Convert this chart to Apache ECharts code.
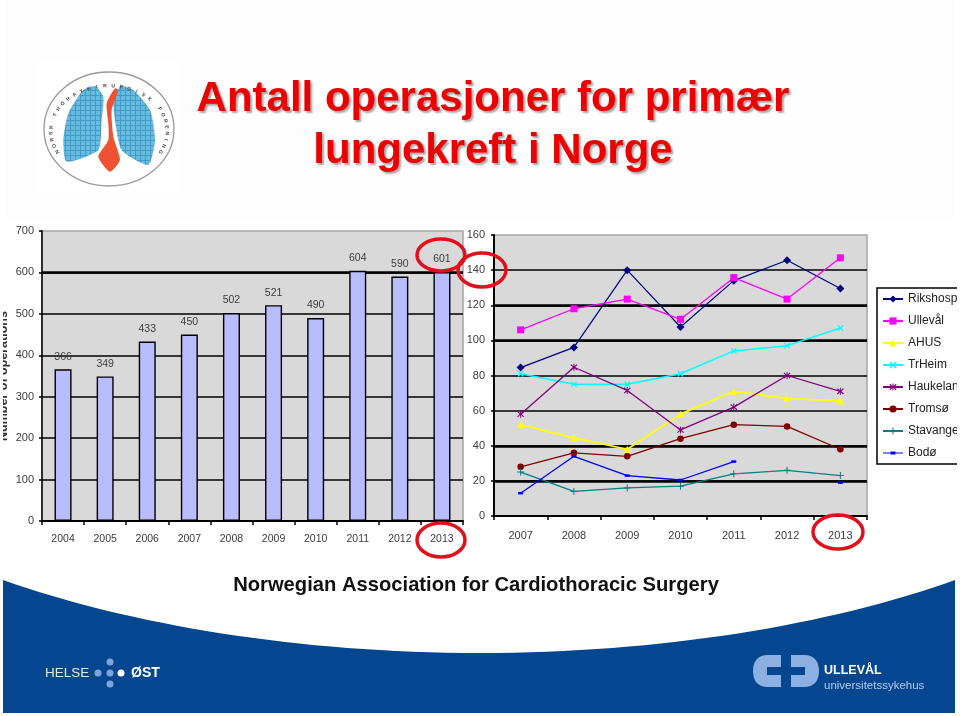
<!DOCTYPE html>
<html>
<head>
<meta charset="utf-8">
<style>html,body{margin:0;padding:0;background:#fff}#c{width:960px;height:716px}</style>
<script src="https://cdn.jsdelivr.net/npm/echarts@6/dist/echarts.min.js"></script>
</head>
<body>
<div id="c"></div>
<script>
var barYears = ['2004','2005','2006','2007','2008','2009','2010','2011','2012','2013'];
var operations = [366,349,433,450,502,521,490,604,590,601];
var lineYears = ['2007','2008','2009','2010','2011','2012','2013'];
var rikshosp  = [84.5,96,140,107.6,134,145.6,129.5];
var ullevaal  = [106,118,123.5,112,135.7,123.5,147];
var ahus      = [52,44.5,38,58,71,67,65.5];
var trheim    = [81,75,75,81,94,97,107];
var haukeland = [58,84.7,71.5,49,62,80,71];
var tromso    = [28,36,34,44,52,51,38];
var stavanger = [25,14,16,17,24,26,23];
var bodo      = [13,34,23,20.5,31,null,19];
var heavyBarGrid = [600];
var heavyLineGrid = [120,100,40,20];
var titleText = 'Antall operasjoner for primær\nlungekreft i Norge';
var ringText = 'NORSK THORAXKIRURGISK FORENING';

var SANS = '"Liberation Sans",Arial,sans-serif';
var P_X = 'path://M1.5 0L5 3.5L8.5 0L10 1.5L6.5 5L10 8.5L8.5 10L5 6.5L1.5 10L0 8.5L3.5 5L0 1.5Z';
var P_STAR = 'path://M1.2 0.6L4.3 3.6V0H5.7V3.6L8.8 0.6L10 1.8L6.4 5L10 8.2L8.8 9.4L5.7 6.4V10H4.3V6.4L1.2 9.4L0 8.2L3.6 5L0 1.8Z';
var P_PLUS = 'path://M4.3 0H5.7V4.3H10V5.7H5.7V10H4.3V5.7H0V4.3H4.3Z';
var P_DASH = 'path://M0 4H8V3H13V4H21V5H13V6H8V5H0Z';

echarts.graphic.registerShape('footerBand', echarts.graphic.extendShape({
  buildPath: function(c){
    c.moveTo(3,580); c.bezierCurveTo(130,625,300,653,480,653); c.bezierCurveTo(660,653,830,625,955,580);
    c.lineTo(955,713); c.lineTo(3,713); c.closePath();
  }
}));
echarts.graphic.registerShape('ullevalLeft', echarts.graphic.extendShape({
  buildPath: function(c){
    c.moveTo(781,655); c.lineTo(768,655); c.bezierCurveTo(757,655,753,662,753,671); c.bezierCurveTo(753,680,757,687,768,687);
    c.lineTo(781,687); c.lineTo(781,675); c.lineTo(767,675); c.lineTo(767,667); c.lineTo(781,667); c.closePath();
  }
}));
echarts.graphic.registerShape('ullevalRight', echarts.graphic.extendShape({
  buildPath: function(c){
    c.moveTo(791,655); c.lineTo(804,655); c.bezierCurveTo(815,655,819,662,819,671); c.bezierCurveTo(819,680,815,687,804,687);
    c.lineTo(791,687); c.lineTo(791,675); c.lineTo(805,675); c.lineTo(805,667); c.lineTo(791,667); c.closePath();
  }
}));

function heavy(values){
  return {silent:true, symbol:'none', z:1, label:{show:false}, animation:false,
    lineStyle:{color:'#000', width:2.6, type:'solid'},
    data:values.map(function(v){ return {yAxis:v}; })};
}
function mk(name, data, color, symbol, size, width, extra) {
  return Object.assign({
    name: name, type: 'line', xAxisIndex: 1, yAxisIndex: 1, data: data,
    symbol: symbol, symbolSize: size, showSymbol: true, connectNulls: false,
    lineStyle: {color: color, width: width}, itemStyle: {color: color},
    emphasis: {disabled: true}, animation: false, z: 5
  }, extra || {});
}
function axisText(size){ return {color:'#3c3c3c', fontFamily:SANS, fontSize:size}; }
var blackLine = {lineStyle:{color:'#000',width:2}};

// Pattern for the logo lungs
var pat = document.createElement('canvas'); pat.width = 5; pat.height = 5;
var pc = pat.getContext('2d');
pc.fillStyle = '#62bde0'; pc.fillRect(0,0,5,5);
pc.fillStyle = '#4a96c4'; pc.fillRect(0,0,5,1); pc.fillRect(0,0,1,5);

function poly(pts, fill){ return {type:'polygon', z:50, shape:{points:pts, smooth:0.2}, style:{fill:fill}}; }
function z3(list){ return list.map(function(p){ return [p[0]/3, 40+p[1]/3]; }); }

var graphics = [
  {type:'rect', z:-1, shape:{x:5,y:0,width:950,height:220}, style:{fill:'#fdfdfd'}},
  {type:'rect', z:-1, shape:{x:36,y:60,width:144,height:132}, style:{fill:'#ffffff'}},
  // footer band
  {type:'footerBand', z:1, style:{fill:'#04468f'}},
  {type:'rect', z:2, shape:{x:228,y:566,width:509,height:39}, style:{fill:'#ffffff'}},
  {type:'text', z:3, x:476, y:585, style:{text:'Norwegian Association for Cardiothoracic Surgery', fill:'#111', font:'bold 20.2px '+SANS, align:'center', verticalAlign:'middle'}},
  // Helse Øst
  {type:'text', z:3, x:45, y:673, style:{text:'HELSE', fill:'#dfe8f5', font:'13.5px '+SANS, verticalAlign:'middle'}},
  {type:'text', z:3, x:131, y:673, style:{text:'ØST', fill:'#ffffff', font:'bold 14px '+SANS, verticalAlign:'middle'}},
  {type:'circle', z:3, shape:{cx:98,cy:673,r:3.5}, style:{fill:'#7fa3da'}},
  {type:'circle', z:3, shape:{cx:110,cy:673,r:3.5}, style:{fill:'#7fa3da'}},
  {type:'circle', z:3, shape:{cx:121,cy:673,r:3.5}, style:{fill:'#ffffff'}},
  {type:'circle', z:3, shape:{cx:110,cy:662,r:3.5}, style:{fill:'#7fa3da'}},
  {type:'circle', z:3, shape:{cx:110,cy:684,r:3.5}, style:{fill:'#7fa3da'}},
  // Ullevål logo
  {type:'ullevalLeft', z:3, style:{fill:'#8db0e2'}},
  {type:'ullevalRight', z:3, style:{fill:'#8db0e2'}},
  {type:'text', z:3, x:824, y:671, style:{text:'ULLEVÅL', fill:'#ffffff', font:'bold 12.5px '+SANS, verticalAlign:'middle'}},
  {type:'text', z:3, x:824, y:686, style:{text:'universitetssykehus', fill:'#b4cbed', font:'11.5px '+SANS, verticalAlign:'middle'}},
  // Lung logo
  {type:'ellipse', z:50, shape:{cx:109,cy:129,rx:65,ry:57}, style:{fill:'none', stroke:'#9a9a9a', lineWidth:1.3}},
  poly(z3([[285,138],[310,170],[305,240],[295,330],[200,365],[190,300],[205,220],[250,150]]), {image:pat, repeat:'repeat'}),
  poly(z3([[365,138],[340,170],[345,240],[365,330],[445,375],[465,300],[450,210],[400,150]]), {image:pat, repeat:'repeat'}),
  poly(z3([[345,145],[320,190],[325,250],[325,300],[295,350],[330,395],[360,360],[340,290],[335,210],[355,150]]), '#ee5230'),
  // Red highlight rings
  {type:'ellipse', z:100, shape:{cx:441,cy:255,rx:24,ry:16}, style:{fill:'none', stroke:'#e2101e', lineWidth:3.5}},
  {type:'ellipse', z:100, shape:{cx:482,cy:270,rx:24,ry:17}, style:{fill:'none', stroke:'#e2101e', lineWidth:3.5}},
  {type:'ellipse', z:100, shape:{cx:441,cy:540,rx:24,ry:17}, style:{fill:'none', stroke:'#e2101e', lineWidth:3.5}},
  {type:'ellipse', z:100, shape:{cx:838,cy:532,rx:25,ry:17}, style:{fill:'none', stroke:'#e2101e', lineWidth:3.5}},
  // crop the original screenshot edges
  {type:'rect', z:200, shape:{x:957,y:280,width:3,height:200}, style:{fill:'#ffffff'}},
  {type:'rect', z:200, shape:{x:0,y:300,width:3,height:150}, style:{fill:'#ffffff'}}
];
// Curved society name around the logo
(function(){
  var n = ringText.length, from = -2.05, to = 2.05;
  for (var i = 0; i < n; i++) {
    var t = from + (to - from) * i / (n - 1);
    graphics.push({type:'text', z:51, x:109 + 58 * Math.sin(t), y:131 - 45 * Math.cos(t), rotation:-t,
      style:{text:ringText[i], fill:'#444', font:'bold 5px '+SANS, align:'center', verticalAlign:'middle'}});
  }
})();

var option = {
  animation: false,
  backgroundColor: '#ffffff',
  title: {
    text: titleText, left: 488, top: 68, textAlign: 'center',
    textStyle: {color:'#ee0000', fontFamily:SANS, fontWeight:'bold', fontSize:42, lineHeight:52,
      textShadowColor:'rgba(0,0,0,0.35)', textShadowBlur:2, textShadowOffsetX:2, textShadowOffsetY:2}
  },
  legend: {
    orient:'vertical', left:877, top:288, padding:[5,60,5,5], itemWidth:20, itemHeight:9, itemGap:10,
    borderColor:'#000', borderWidth:1.5, backgroundColor:'#fff',
    textStyle:{color:'#222', fontFamily:SANS, fontSize:12},
    selectedMode:false,
    data:['Rikshosp','Ullevål','AHUS','TrHeim','Haukeland','Tromsø','Stavanger',{name:'Bodø', icon:P_DASH}]
  },
  grid: [
    {left:42, top:231, width:421, height:290, show:true, outerBoundsMode:'none', containLabel:false, backgroundColor:'#d9d9d9', borderColor:'#a6a6a6', borderWidth:1.5},
    {left:494, top:235, width:373, height:281, show:true, outerBoundsMode:'none', containLabel:false, backgroundColor:'#d9d9d9', borderColor:'#a6a6a6', borderWidth:1.5}
  ],
  xAxis: [
    {type:'category', gridIndex:0, data:barYears, axisLine:blackLine, axisTick:{show:true,length:4,lineStyle:{color:'#000',width:1.5}},
      axisLabel:Object.assign(axisText(10.5),{margin:13,interval:0})},
    {type:'category', gridIndex:1, data:lineYears, axisLine:blackLine, axisTick:{show:true,length:4,lineStyle:{color:'#000',width:1.5}},
      axisLabel:Object.assign(axisText(11),{margin:14,interval:0})}
  ],
  yAxis: [
    {type:'value', gridIndex:0, min:0, max:700, interval:100, name:'Number of operations', nameLocation:'middle', nameGap:32,
      nameTextStyle:{color:'#333',fontFamily:SANS,fontSize:12.5,fontWeight:'bold'},
      axisLine:{show:true,lineStyle:{color:'#000',width:1.5}}, axisTick:{show:true,length:3,lineStyle:{color:'#000',width:1.5}},
      axisLabel:Object.assign(axisText(11),{margin:8}), splitLine:{show:true,showMaxLine:false,showMinLine:false,lineStyle:{color:'#000',width:1.5}}},
    {type:'value', gridIndex:1, min:0, max:160, interval:20,
      axisLine:{show:true,lineStyle:{color:'#000',width:2}}, axisTick:{show:true,length:3,lineStyle:{color:'#000',width:1.5}},
      axisLabel:Object.assign(axisText(11),{margin:9}), splitLine:{show:true,showMaxLine:false,showMinLine:false,lineStyle:{color:'#000',width:1.5}}}
  ],
  series: [
    {name:'Operations', type:'bar', xAxisIndex:0, yAxisIndex:0, data:operations, barWidth:17, animation:false, z:3,
      itemStyle:{color:'#b9bcff', borderColor:'#000', borderWidth:1.4},
      label:{show:true, position:'top', distance:7, color:'#3c3c3c', fontFamily:SANS, fontSize:10.5},
      markLine:heavy(heavyBarGrid),
      emphasis:{disabled:true}},
    mk('Rikshosp', rikshosp, '#000080', 'diamond', 8, 1.2, {markLine:heavy(heavyLineGrid)}),
    mk('Ullevål', ullevaal, '#ff00ff', 'rect', 7, 1.3),
    mk('AHUS', ahus, '#ffff00', 'triangle', 7, 1.7),
    mk('TrHeim', trheim, '#00ffff', P_X, 6, 1.5),
    mk('Haukeland', haukeland, '#800080', P_STAR, 7, 1.3),
    mk('Tromsø', tromso, '#800000', 'circle', 6.5, 1.3),
    mk('Stavanger', stavanger, '#008080', P_PLUS, 7, 1.3),
    mk('Bodø', bodo, '#0000ff', 'rect', [5,2.5], 1.3)
  ],
  graphic: {elements: graphics}
};
var chart = echarts.init(document.getElementById('c'), null, {renderer:'canvas', width:960, height:716});
chart.setOption(option);
</script>
</body>
</html>
